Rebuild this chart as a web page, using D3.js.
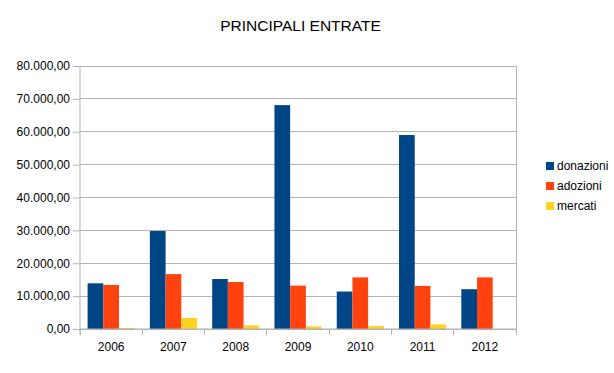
<!DOCTYPE html>
<html><head><meta charset="utf-8">
<script src="https://cdn.jsdelivr.net/npm/d3@7"></script>
<style>body{margin:0;background:#fff}svg{display:block}text{font-family:"Liberation Sans",Arial,sans-serif}</style>
</head><body>
<svg id="c" width="614" height="373"></svg>
<script>
const years = ["2006","2007","2008","2009","2010","2011","2012"];
const seriesNames = ["donazioni","adozioni","mercati"];
const donazioni = [13900, 29800, 15200, 68100, 11400, 59000, 12100];
const adozioni = [13400, 16700, 14300, 13200, 15700, 13100, 15700];
const mercati = [300, 3350, 1100, 800, 900, 1400, 0];
const yTicks = [0,10000,20000,30000,40000,50000,60000,70000,80000];
const colors = ["#004586","#ff420e","#ffd320"];

const values = [donazioni, adozioni, mercati];
const svg = d3.select("#c");
const L = 80, R = 516, T = 66, B = 329;
const x = d3.scaleBand().domain(years).range([L, R]).padding(0);
const bw = x.bandwidth();
const xs = d3.scaleBand().domain(seriesNames).range([bw*0.122, bw*0.878]).padding(0);
const y = d3.scaleLinear().domain([0,80000]).range([B, T]);
const loc = d3.formatLocale({decimal:",", thousands:".", grouping:[3], currency:["€",""]});
const fmt = loc.format(",.2f");
const grid = "#b3b3b3";

// gridlines
svg.append("g").selectAll("line").data(yTicks).join("line")
  .attr("x1", L).attr("x2", R).attr("y1", d=>y(d)).attr("y2", d=>y(d))
  .attr("stroke", grid).attr("stroke-width",1).attr("shape-rendering","crispEdges");
// right border
svg.append("line").attr("x1",R).attr("x2",R).attr("y1",T).attr("y2",B)
  .attr("stroke",grid).attr("shape-rendering","crispEdges");

// bars
const g = svg.append("g");
years.forEach((yr,i)=>{
  seriesNames.forEach((s,j)=>{
    const v = values[j][i];
    if (v <= 0) return;
    g.append("rect").attr("x", x(yr)+xs(s)).attr("width", xs.bandwidth())
      .attr("y", y(v)).attr("height", B - y(v)).attr("fill", colors[j]);
  });
});

// y axis
const ya = svg.append("g").attr("transform",`translate(${L},0)`)
  .call(d3.axisLeft(y).tickValues(yTicks).tickFormat(fmt).tickSize(7).tickPadding(3));
ya.select(".domain").attr("stroke",grid).attr("d",`M0,${T}V${B+6}`);
ya.selectAll(".tick line").attr("stroke",grid);
ya.selectAll("text").attr("font-size",12).attr("fill","#000").attr("font-family","Liberation Sans, Arial, sans-serif");

// x axis
const xa = svg.append("g").attr("transform",`translate(0,${B})`)
  .call(d3.axisBottom(x).tickSize(0).tickPadding(13));
xa.select(".domain").attr("stroke",grid).attr("d",`M${L},0H${R}`);
xa.selectAll("text").attr("font-size",12).attr("fill","#000").attr("font-family","Liberation Sans, Arial, sans-serif");
svg.append("g").selectAll("line").data(d3.range(years.length+1)).join("line")
  .attr("x1", d=>L+d*bw).attr("x2", d=>L+d*bw).attr("y1",B).attr("y2",B+6)
  .attr("stroke",grid).attr("shape-rendering","crispEdges");

// title
svg.append("text").attr("x",300.5).attr("y",31).attr("text-anchor","middle")
  .attr("font-size",15.5).attr("fill","#000").text("PRINCIPALI ENTRATE");

// legend
const lg = svg.append("g");
seriesNames.forEach((s,j)=>{
  const yy = 166 + j*20;
  lg.append("rect").attr("x",546).attr("y",yy-4).attr("width",8).attr("height",8).attr("fill",colors[j]);
  lg.append("text").attr("x",557).attr("y",yy+4).attr("font-size",12).attr("fill","#000").text(s);
});
</script>
</body></html>
